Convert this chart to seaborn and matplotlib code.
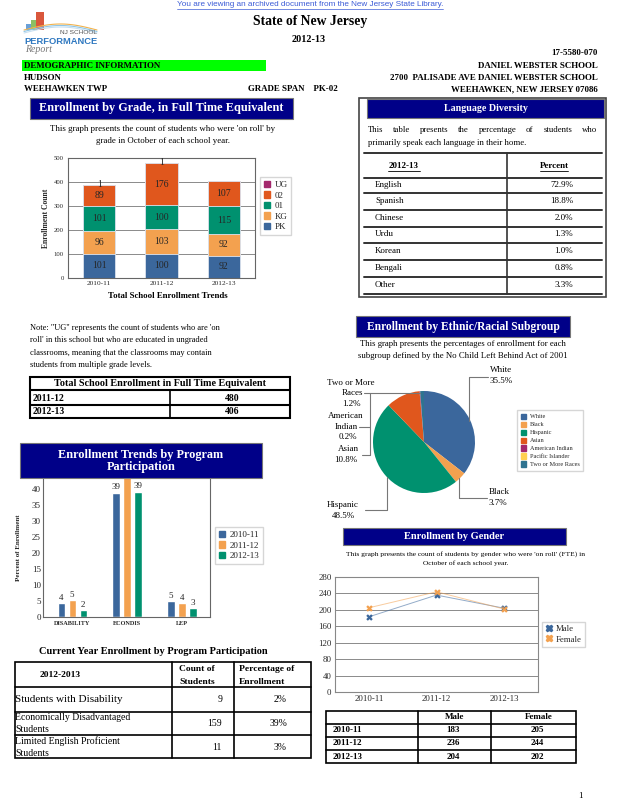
import numpy as np
import pandas as pd
import matplotlib.pyplot as plt
import seaborn as sns
from matplotlib.patches import Rectangle, Patch
from matplotlib.lines import Line2D

sns.set_theme(style='white')
plt.rcParams['font.family'] = ['Liberation Serif', 'DejaVu Serif']

# ---- data ----
years = ['2010-11', '2011-12', '2012-13']
grade_pk = [101, 100, 92]
grade_kg = [96, 103, 92]
grade_01 = [101, 100, 115]
grade_02 = [89, 176, 107]
grade_ug = [1, 1, 0]

total_years = ['2011-12', '2012-13']
total_fte = [480, 406]

languages = ['English', 'Spanish', 'Chinese', 'Urdu', 'Korean', 'Bengali', 'Other']
language_pct = ['72.9%', '18.8%', '2.0%', '1.3%', '1.0%', '0.8%', '3.3%']

ethnic_groups = ['White', 'Black', 'Hispanic', 'Asian', 'American Indian',
                 'Pacific Islander', 'Two or More Races']
ethnic_pct = [35.5, 3.7, 48.5, 10.8, 0.2, 0.0, 1.2]

programs = ['DISABILITY', 'ECONDIS', 'LEP']
prog_1011 = [4.4, 38.8, 5.0]
prog_1112 = [5.3, 46.0, 4.4]
prog_1213 = [2.2, 39.1, 2.8]

cur_rows = ['Students with Disability', 'Economically Disadvantaged\nStudents',
            'Limited English Proficient\nStudents']
cur_count = [9, 159, 11]
cur_pct = ['2%', '39%', '3%']

male = [183, 236, 204]
female = [205, 244, 202]

# colours
NAVY = '#000088'
BLUE = '#3b679c'
ORANGE = '#f3a14f'
GREEN = '#00916f'
RED = '#e0571d'
MAGENTA = '#a3286c'
YELLOW = '#ffd050'
TEAL = '#2f7490'

W, H = 618, 800
fig = plt.figure(figsize=(W / 100, H / 100), dpi=100)
R = fig.canvas.get_renderer()


def fx(x):
    return x / W


def fy(y):
    return 1 - y / H


def axp(x0, y0, x1, y1):
    return fig.add_axes([fx(x0), fy(y1), (x1 - x0) / W, (y1 - y0) / H])


def tx(x, y, s, size=6.5, weight='normal', ha='left', color='black', **kw):
    return fig.text(fx(x), fy(y), s, fontsize=size, fontweight=weight, ha=ha,
                    va='center', color=color, zorder=3, **kw)


def fit(x0, x1, y, s, weight='normal', color='black', **kw):
    # scale font so the text spans x0..x1 pixels
    t = fig.text(fx(x0), fy(y), s, fontsize=10, fontweight=weight, ha='left',
                 va='center', color=color, zorder=3, **kw)
    w = t.get_window_extent(renderer=R).width
    t.set_fontsize(10 * (x1 - x0) / w)
    return t


def box(x0, y0, x1, y1, fc='none', ec='none', lw=0, z=1):
    fig.add_artist(Rectangle((fx(x0), fy(y1)), (x1 - x0) / W, (y1 - y0) / H,
                             transform=fig.transFigure, facecolor=fc,
                             edgecolor=ec, linewidth=lw, zorder=z))


def seg(xs, ys, lw=0.8, color='black', z=2):
    fig.add_artist(Line2D([fx(v) for v in xs], [fy(v) for v in ys],
                          transform=fig.transFigure, lw=lw, color=color, zorder=z))


def header(x0, y0, x1, y1, title, size=8.5):
    box(x0, y0, x1, y1, fc=NAVY, ec='#777777', lw=0.8, z=1.5)
    fig.text(fx((x0 + x1) / 2), fy((y0 + y1) / 2), title, fontsize=size,
             fontweight='bold', ha='center', va='center', color='white',
             zorder=3, linespacing=1.0)


def justify(x0, x1, y, line, size):
    words = line.split()
    ts = [tx(0, y, w, size) for w in words]
    ws = [t.get_window_extent(renderer=R).width for t in ts]
    gap = (x1 - x0 - sum(ws)) / (len(words) - 1)
    x = x0
    for t, w in zip(ts, ws):
        t.set_x(fx(x))
        x += w + gap


# ---- page header ----
fit(177, 443, 4, 'You are viewing an archived document from the New Jersey State Library.',
    color='#3b5bd6', family=['Liberation Sans'])
seg([177, 443], [8.5, 8.5], lw=0.5, color='#3b5bd6')

# logo
box(36, 12, 44, 30, fc='#d9573c')
box(31, 20, 36, 30, fc='#8cc063')
box(26, 24, 31, 30, fc='#6aa0d8')
xs = np.linspace(24, 97, 30)
for k, c in enumerate(['#f2b24c', '#8ec6e8', '#c8dff0']):
    seg(xs, 30 - 6 * np.sin((xs - 24) / 73 * np.pi) + k * 1.5, lw=0.8, color=c)
fit(60, 97, 33, 'NJ SCHOOL', color='#555555', family=['Liberation Sans'])
fit(24, 97, 42, 'PERFORMANCE', weight='bold', color='#2f78c0', family=['Liberation Sans'])
fit(25, 52, 50, 'Report', color='#777777', style='italic')

fit(253, 367, 22, 'State of New Jersey', weight='bold')
fit(292, 326, 39, '2012-13', weight='bold')
tx(598, 53, '17-5580-070', 6.4, 'bold', ha='right')
box(22, 60, 266, 71, fc='#00ff00')
tx(24, 66, 'DEMOGRAPHIC INFORMATION', 6.4, 'bold')
tx(24, 78, 'HUDSON', 6.4, 'bold')
tx(24, 89, 'WEEHAWKEN TWP', 6.4, 'bold')
tx(248, 89, 'GRADE SPAN    PK-02', 6.4, 'bold')
tx(598, 66, 'DANIEL WEBSTER SCHOOL', 6.4, 'bold', ha='right')
tx(598, 78, '2700  PALISADE AVE DANIEL WEBSTER SCHOOL', 6.4, 'bold', ha='right')
tx(598, 89, 'WEEHAWKEN, NEW JERSEY 07086', 6.4, 'bold', ha='right')

# ---- enrollment by grade ----
header(30, 98, 293, 119, 'Enrollment by Grade, in Full Time Equivalent', 8.8)
tx(163, 129, "This graph presents the count of students who were 'on roll' by", 6.4, ha='center')
tx(163, 141, 'grade in October of each school year.', 6.4, ha='center')

ax1 = axp(68, 158, 255, 278)
stack = [('PK', grade_pk, BLUE), ('KG', grade_kg, ORANGE), ('01', grade_01, GREEN),
         ('02', grade_02, RED), ('UG', grade_ug, MAGENTA)]
tops = np.cumsum([s[1] for s in stack], axis=0)
for (name, vals, col), top in reversed(list(zip(stack, tops))):
    sns.barplot(x=years, y=top, color=col, width=0.52, saturation=1,
                linewidth=0.6, edgecolor='#dde4f0', ax=ax1)
for (name, vals, col), top in zip(stack, tops):
    for i, v in enumerate(vals):
        if name == 'UG':
            if v:
                ax1.text(i, top[i], str(v), ha='center', va='center', fontsize=7)
        else:
            ax1.text(i, top[i] - v / 2, str(v), ha='center', va='center', fontsize=7)
ax1.set_ylim(0, 500)
ax1.set_yticks(range(0, 501, 100))
ax1.yaxis.grid(True, color='#777777', lw=0.6)
ax1.set_axisbelow(True)
ax1.tick_params(axis='y', labelsize=4.8, pad=3, length=0)
ax1.tick_params(axis='x', labelsize=5.3, pad=2, length=0)
ax1.set_xlabel('')
ax1.set_ylabel('Enrollment Count', fontsize=5.5, fontweight='bold', labelpad=3)
for s in ax1.spines.values():
    s.set_color('#666666')
    s.set_linewidth(0.8)
tx(168, 296, 'Total School Enrollment Trends', 6.3, 'bold', ha='center')
ax1.legend([Patch(color=c) for _, _, c in stack[::-1]], ['UG', '02', '01', 'KG', 'PK'],
           loc='upper left', bbox_to_anchor=(fx(260), fy(177)), bbox_transform=fig.transFigure,
           fontsize=6.5, frameon=True, fancybox=False, edgecolor='#cccccc',
           handlelength=0.7, handleheight=0.7, handletextpad=0.5, labelspacing=0.25,
           borderpad=0.4, borderaxespad=0)

# ---- language diversity ----
box(359, 98, 606, 297, ec='#444444', lw=1.2)
header(367, 99, 604, 118, 'Language Diversity', 7.2)
justify(368, 597, 130, 'This table presents the percentage of students who', 6.3)
tx(368, 143, 'primarily speak each language in their home.', 6.3)
for y in [153, 178, 193, 210, 227, 243, 260, 277, 294]:
    seg([364, 602], [y, y], lw=1.4, color='#333333')
seg([507, 507], [153, 294], lw=1.2, color='#333333')
tx(404, 166, '2012-13', 6.5, 'bold', ha='center')
seg([388, 420], [171, 171], lw=0.6)
tx(554, 166, 'Percent', 6.5, 'bold', ha='center')
seg([540, 568], [171, 171], lw=0.6)
row_y = [185, 201, 218, 234, 251, 268, 285]
for y, lang, p in zip(row_y, languages, language_pct):
    tx(375, y, lang, 6.5)
    tx(573, y, p, 6.5, ha='right')

# ---- note and total table ----
note = ["Note: \"UG\" represents the count of students who are 'on",
        "roll' in this school but who are educated in ungraded",
        "classrooms, meaning that the classrooms may contain",
        "students from multiple grade levels."]
for k, line in enumerate(note):
    tx(30, 328 + k * 12.4, line, 6.0)

box(30, 377, 290, 418, ec='black', lw=1.5)
seg([30, 290], [390, 390], lw=1.5)
seg([30, 290], [405, 405], lw=1.5)
seg([170, 170], [390, 418], lw=1.2)
tx(160, 384, 'Total School Enrollment in Full Time Equivalent', 7.3, 'bold', ha='center')
for y, yr, v in zip([398, 412], total_years, total_fte):
    tx(33, y, yr, 7, 'bold')
    tx(232, y, str(v), 7, 'bold', ha='center')

# ---- program participation chart ----
header(20, 443, 262, 478, 'Enrollment Trends by Program\nParticipation', 8.8)
ax2 = axp(43, 478, 210, 617)
prog_df = pd.DataFrame({'program': programs * 3,
                        'year': np.repeat(years, 3),
                        'pct': prog_1011 + prog_1112 + prog_1213})
sns.barplot(data=prog_df, x='program', y='pct', hue='year', palette=[BLUE, ORANGE, GREEN],
            width=0.6, gap=0.35, saturation=1, ax=ax2, legend=False)
for c in ax2.containers:
    ax2.bar_label(c, labels=[f'{v:.0f}' for v in c.datavalues], fontsize=6.5, padding=1)
ax2.set_xlim(-0.53, 2.51)
ax2.set_ylim(0, 43.4)
ax2.set_yticks(range(0, 41, 5))
ax2.tick_params(axis='y', labelsize=6.5, pad=1.5, length=0)
ax2.tick_params(axis='x', labelsize=4.5, pad=3, length=0)
for lab in ax2.get_xticklabels():
    lab.set_fontweight('bold')
ax2.set_xlabel('')
ax2.set_ylabel('Percent of Enrollment', fontsize=5, fontweight='bold', labelpad=8)
ax2.spines['top'].set_visible(False)
for s in ['left', 'right', 'bottom']:
    ax2.spines[s].set_color('#666666')
    ax2.spines[s].set_linewidth(0.8)
ax2.legend([Patch(color=c) for c in [BLUE, ORANGE, GREEN]], years,
           loc='upper left', bbox_to_anchor=(fx(215), fy(527)), bbox_transform=fig.transFigure,
           fontsize=6.5, frameon=True, fancybox=False, edgecolor='#cccccc',
           handlelength=0.7, handleheight=0.7, handletextpad=0.5, labelspacing=0.25,
           borderpad=0.4, borderaxespad=0)

# ---- current year table ----
tx(153, 651, 'Current Year Enrollment by Program Participation', 7.5, 'bold', ha='center')
box(15, 662, 311, 758, ec='black', lw=1.2)
for y in [687, 712, 735]:
    seg([15, 311], [y, y], lw=1.2)
for x in [172, 234]:
    seg([x, x], [662, 758], lw=1.2)
tx(60, 675, '2012-2013', 6.8, 'bold', ha='center')
tx(179, 669, 'Count of', 6.8, 'bold')
tx(179, 682, 'Students', 6.8, 'bold')
tx(239, 669, 'Percentage of', 6.8, 'bold')
tx(239, 682, 'Enrollment', 6.8, 'bold')
tx(15, 700, cur_rows[0], 8)
for (ya, yb), lab in zip([(717, 729), (741, 753)], cur_rows[1:]):
    a, b = lab.split('\n')
    tx(15, ya, a, 7)
    tx(15, yb, b, 7)
for y, c, p in zip([700, 723, 747], cur_count, cur_pct):
    tx(222, y, str(c), 7, ha='right')
    tx(287, y, p, 7, ha='right')

# ---- ethnic pie ----
header(356, 316, 570, 337, 'Enrollment by Ethnic/Racial Subgroup', 8.3)
tx(463, 344, 'This graph presents the percentages of enrollment for each', 6.3, ha='center')
tx(463, 356, 'subgroup defined by the No Child Left Behind Act of 2001', 6.3, ha='center')
ax3 = axp(373, 391, 475, 493)
pie_cols = [BLUE, ORANGE, GREEN, RED, MAGENTA, YELLOW, TEAL]
ax3.pie(ethnic_pct, colors=pie_cols, startangle=90, counterclock=False, radius=1,
        wedgeprops=dict(linewidth=0))
ax3.set_xlim(-1, 1)
ax3.set_ylim(-1, 1)
ax3.axis('off')
GR = '#777777'
seg([469, 469, 488], [421, 377, 377], lw=0.8, color=GR)
tx(490, 370, 'White', 6.5)
tx(490, 381, '35.5%', 6.5)
seg([459, 459, 487], [478, 498, 498], lw=0.8, color=GR)
tx(489, 492, 'Black', 6.5)
tx(489, 503, '3.7%', 6.5)
seg([420, 370, 370, 362], [393, 393, 455, 455], lw=0.8, color=GR)
seg([364, 370], [393, 393], lw=0.8, color=GR)
seg([359, 370], [427, 427], lw=0.8, color=GR)
seg([387, 387, 365], [477, 510, 510], lw=0.8, color=GR)
left_labels = ['Two or More', 'Races', '1.2%', 'American', 'Indian', '0.2%', 'Asian', '10.8%']
left_x = [351, 352, 351, 346, 346, 348, 348, 346]
for y, x, s in zip([383, 393, 404, 416, 427, 437, 449, 460], left_x, left_labels):
    tx(x, y, s, 6.5, ha='center')
tx(343, 505, 'Hispanic', 6.5, ha='center')
tx(343, 516, '48.5%', 6.5, ha='center')
ax3.legend([Patch(color=c) for c in pie_cols], ethnic_groups, loc='upper left',
           bbox_to_anchor=(fx(517), fy(410)), bbox_transform=fig.transFigure,
           fontsize=4.5, frameon=True, fancybox=False, edgecolor='#cccccc',
           handlelength=0.9, handleheight=0.9, handletextpad=0.5, labelspacing=0.35,
           borderpad=0.6, borderaxespad=0)

# ---- gender ----
header(343, 528, 566, 545, 'Enrollment by Gender', 7.5)
tx(466, 554, "This graph presents the count of students by gender who were 'on roll' (FTE) in", 5.4, ha='center')
tx(466, 563, 'October of each school year.', 5.4, ha='center')
ax4 = axp(335, 577, 538, 692)
pos = [0, 1, 2]
for vals, col in [(male, BLUE), (female, ORANGE)]:
    sns.lineplot(x=pos, y=vals, color=col, lw=0.7, alpha=0.55, ax=ax4)
    sns.scatterplot(x=pos, y=vals, color=col, marker='X', s=22, linewidth=0, ax=ax4)
ax4.set_xlim(-0.5, 2.5)
ax4.set_ylim(0, 280)
ax4.set_yticks(range(0, 281, 40))
ax4.set_xticks(pos)
ax4.set_xticklabels(years)
ax4.tick_params(labelsize=6.3, pad=2.5, length=0)
ax4.yaxis.grid(True, color='#777777', lw=0.6)
ax4.set_axisbelow(True)
for s in ax4.spines.values():
    s.set_color('#888888')
    s.set_linewidth(0.8)
ax4.legend([Line2D([], [], ls='none', marker='X', color=c, markersize=4.5) for c in [BLUE, ORANGE]],
           ['Male', 'Female'], loc='upper left', bbox_to_anchor=(fx(542), fy(622)),
           bbox_transform=fig.transFigure, fontsize=6.3, frameon=True, fancybox=False,
           edgecolor='#cccccc', handlelength=0.8, handletextpad=0.4, labelspacing=0.25,
           borderpad=0.35, borderaxespad=0)

box(326, 711, 576, 763, ec='black', lw=1.2)
for y in [724, 737, 750]:
    seg([326, 576], [y, y], lw=1.2)
for x in [418, 491]:
    seg([x, x], [711, 763], lw=1.2)
tx(455, 717, 'Male', 6.5, 'bold', ha='center')
tx(539, 717, 'Female', 6.5, 'bold', ha='center')
for y, yr, m, f in zip([730, 743, 757], years, male, female):
    tx(333, y, yr, 6.5, 'bold')
    tx(453, y, str(m), 6.5, 'bold', ha='center')
    tx(537, y, str(f), 6.5, 'bold', ha='center')

tx(578, 796, '1', 6.5)

fig.savefig('out.png', dpi=100)
